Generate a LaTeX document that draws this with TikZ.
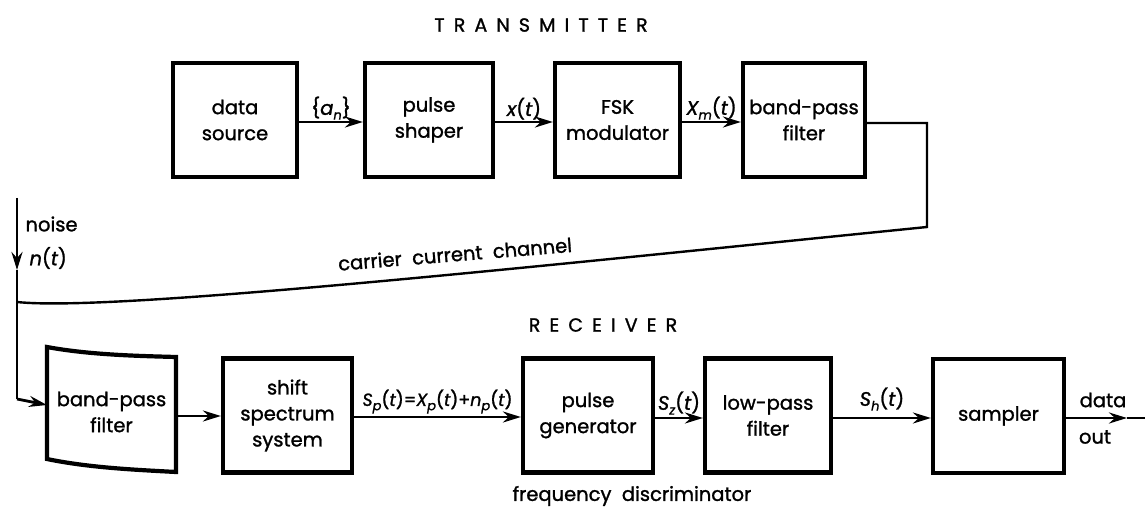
\documentclass[tikz,border=0pt]{standalone}
\usepackage{fontspec}
\setmainfont{Poppins}[UprightFeatures={FakeBold=1.3},ItalicFeatures={FakeBold=1.3}]
\usetikzlibrary{arrows.meta}
% subscript in the label font
\newcommand\sbs[1]{\raisebox{-0.45ex}{\fontsize{13}{13}\selectfont\itshape #1}}
\newcommand\vv[1]{{\itshape #1}}
\begin{document}
\begin{tikzpicture}[x=1pt,y=-1pt,
  every node/.style={font=\fontsize{19.5}{26}\selectfont},
  blk/.style={draw,line width=4.2pt,minimum width=#1,minimum height=114pt,
    align=center,inner sep=0pt},
  blk/.default=126pt,
  conn/.style={line width=2.8pt},
  tip/.style={-{Stealth[length=18pt,width=11pt,inset=6pt]}},
  lbl/.style={inner sep=1pt},
  head/.style={font=\fontsize{19}{22}\selectfont\addfontfeature{LetterSpace=48}}]
\useasboundingbox (0,0) rectangle (1145,510);

% ---------- transmitter ----------
\node[head] (thead) at (541,25) {TRANSMITTER};
\node[blk=124pt] (src)   at (235,120)   {data\\source};
\node[blk=128pt] (shp)   at (429,120)   {pulse\\shaper};
\node[blk=125pt] (fsk)   at (617.5,120) {FSK\\modulator};
\node[blk=122pt] (tbpf)  at (804,120)   {band-pass\\filter};

\draw[conn,tip] (src.east |- 0,122) -- (shp.west |- 0,122)
  node[lbl,midway,above] (lan) {\{\vv{a}\sbs{n}\}};
\draw[conn,tip] (shp.east |- 0,122) -- (fsk.west |- 0,122)
  node[lbl,midway,above] (lx) {\vv{x}(\vv{t})};
\draw[conn,tip] (fsk.east |- 0,122) -- (tbpf.west |- 0,122)
  node[lbl,midway,above] (lxm) {\vv{X}\sbs{m}(\vv{t})};

% ---------- channel and noise ----------
\coordinate (cr1) at (927,123);
\coordinate (cr2) at (927,227);
\coordinate (ntop) at (17,198);
\coordinate (narr) at (17,270);
\coordinate (nj)  at (17,302);
\coordinate (nbot) at (17,399);
\coordinate (rin) at (47,405);

\draw[line width=2.4pt] (tbpf.east |- cr1) -- (cr1) -- (cr2)
  .. controls (520,268) and (110,312) .. (nj);
\node[rotate=4.6] (chan) at (455,254) {carrier\ \ current\ \ channel};

\draw[conn,tip] (ntop) -- (narr);
\draw[conn] (narr) -- (nj) -- (nbot);
\draw[conn,tip] (nbot) -- (rin);
\node[anchor=west] (noise) at (22,224) {noise};
\node[anchor=west] (nt) at (26,258) {\vv{n}(\vv{t})};

% ---------- receiver ----------
\node[head] (rhead) at (603,325) {RECEIVER};

\node[minimum width=129pt,minimum height=115pt,align=center,inner sep=0pt]
  (rbpf) at (111.5,412) {band-pass\\filter};
\draw[line width=4.2pt,line join=miter]
  (47,347) .. controls (90,355) and (140,356) .. (176,357)
  -- (176,472) .. controls (140,470) and (90,468) .. (47,459) -- cycle;

\node[blk=129pt] (shift) at (287.5,415.5) {shift\\spectrum\\system};
\node[blk=130pt] (pgen)  at (588,415.5)   {pulse\\generator};
\node[blk=126pt] (lpf)   at (768,415.5)   {low-pass\\filter};
\node[blk=131pt] (smp)   at (998.5,416)   {sampler};

\draw[conn,tip] (176,416) -- (shift.west |- 0,416);
\draw[conn,tip] (shift.east |- 0,417) -- (pgen.west |- 0,417)
  node[lbl,midway,above,yshift=1pt,font=\fontsize{17.5}{20}\selectfont] (lsp)
  {\vv{S}\sbs{p}(\vv{t})=\vv{X}\sbs{p}(\vv{t})+\vv{n}\sbs{p}(\vv{t})};
\draw[conn,tip] (pgen.east |- 0,418) -- (lpf.west |- 0,418)
  node[lbl,midway,above,yshift=1pt] (lsz) {\vv{S}\sbs{z}(\vv{t})};
\draw[conn,tip] (lpf.east |- 0,418) -- (smp.west |- 0,418)
  node[lbl,midway,above,yshift=5pt] (lsh) {\vv{S}\sbs{h}(\vv{t})};

\coordinate (oarr) at (1127,418);
\coordinate (oend) at (1145,418);
\draw[conn,tip] (smp.east |- oarr) -- (oarr);
\draw[conn] (oarr) -- (oend);
\node (dat) at (1103,400) {data};
\node (out) at (1095,437) {out};

\node (fd) at (632,496) {frequency\ \ discriminator};
\end{tikzpicture}
\end{document}
